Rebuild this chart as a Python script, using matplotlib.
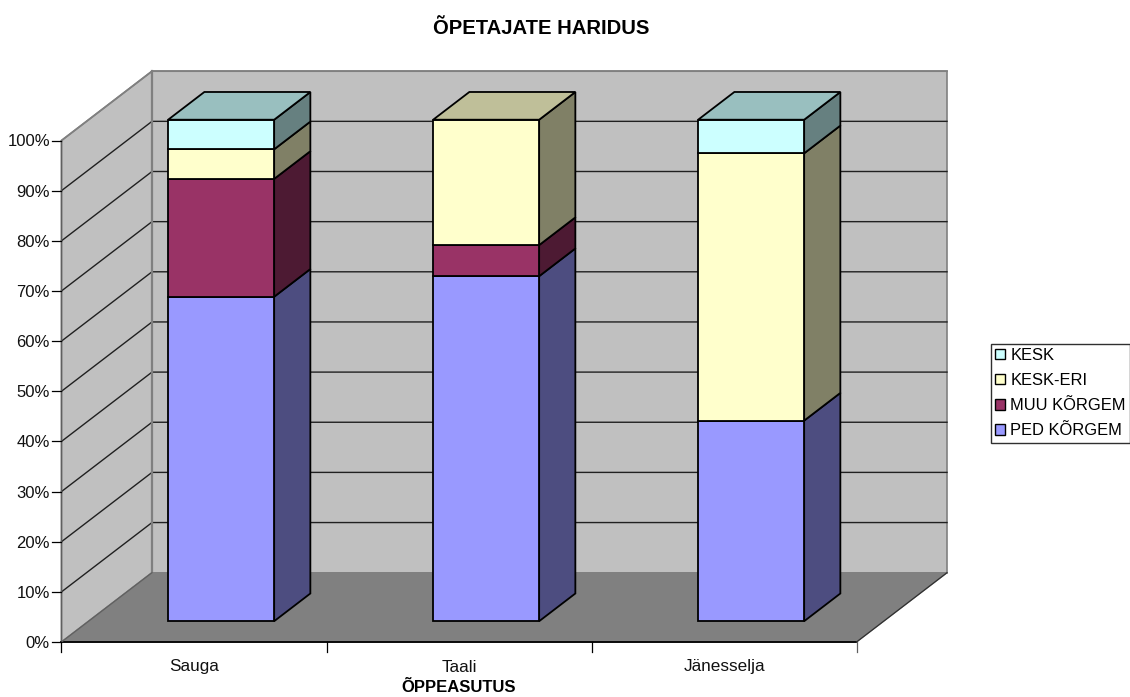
import matplotlib
matplotlib.use('Agg')
import matplotlib.pyplot as plt
from matplotlib.patches import Patch, Polygon

plt.rcParams['font.family'] = ['Liberation Sans', 'DejaVu Sans']

# Data (share of teachers, percent)
categories = ['Sauga', 'Taali', 'Jänesselja']
ped_korgem = [64.7, 68.8, 40.0]
muu_korgem = [23.5, 6.2, 0.0]
kesk_eri = [5.9, 25.0, 53.3]
kesk = [5.9, 0.0, 6.7]
y_ticks = [0, 10, 20, 30, 40, 50, 60, 70, 80, 90, 100]

series = [ped_korgem, muu_korgem, kesk_eri, kesk]
names = ['PED KÕRGEM', 'MUU KÕRGEM', 'KESK-ERI', 'KESK']
colors = ['#9999FF', '#993366', '#FFFFCC', '#CCFFFF']
side_colors = ['#4D4D80', '#4D1A33', '#808066', '#668080']
top_colors = ['#7373BF', '#73264D', '#BFBF99', '#99BFBF']

W, H = 1130, 697
fig = plt.figure(figsize=(W / 100, H / 100), dpi=100)
ax = fig.add_axes([0, 0, 1, 1])

# one x unit = one category, one y unit = one percent
x_px = 265
y_px = 5.015
ax.set_xlim(-61.5 / x_px, (W - 61.5) / x_px)
ax.set_ylim(-(H - 642) / y_px, 642 / y_px)
ax.axis('off')

# oblique depth offset of the back wall
depth_x = 90.5 / x_px
depth_y = 69.3 / y_px
n = len(categories)


def pr(x, y, d=0.0):
    return (x + d * depth_x, y + d * depth_y)


def face(pts, fc, ec='black', lw=1.3, z=1):
    ax.add_patch(Polygon(pts, closed=True, facecolor=fc, edgecolor=ec, linewidth=lw,
                         joinstyle='miter', zorder=z))


# Walls and floor
face([pr(0, 0), pr(0, 100), pr(0, 100, 1), pr(0, 0, 1)], '#C0C0C0', '#808080', 1.2)
face([pr(0, 0, 1), pr(0, 100, 1), pr(n, 100, 1), pr(n, 0, 1)], '#C0C0C0', '#808080', 1.2)
face([pr(0, 0), pr(n, 0), pr(n, 0, 1), pr(0, 0, 1)], '#808080', '#808080', 1.0)

# Gridlines on left wall and back wall
for t in y_ticks[1:]:
    pts = [pr(0, t), pr(0, t, 1), pr(n, t, 1)]
    if t == 100:
        continue
    ax.plot([p[0] for p in pts], [p[1] for p in pts], color='#202020', lw=1.0, zorder=2)
ax.plot(*zip(pr(0, 100), pr(0, 100, 1), pr(n, 100, 1)), color='#808080', lw=1.2, zorder=2)
ax.plot(*zip(pr(0, 0, 1), pr(0, 100, 1)), color='#808080', lw=1.6, zorder=2)

# Axis lines and ticks
ax.plot([0, 0], [0, 100], color='#606060', lw=1.0, zorder=3)
ax.plot([0, n], [0, 0], color='black', lw=1.3, zorder=3)
ax.plot(*zip(pr(0, 0), pr(0, 0, 1)), color='#606060', lw=0.9, zorder=3)
ax.plot(*zip(pr(n, 0), pr(n, 0, 1)), color='#303030', lw=0.9, zorder=3)
tick_x = 9.5 / x_px
tick_y = 10 / y_px
for t in y_ticks:
    ax.plot([-tick_x, 0], [t, t], color='black', lw=0.9, zorder=3)
    ax.text(-tick_x - 2 / x_px, t, f'{t}%', ha='right', va='center_baseline', fontsize=12, color='#111111')
for i in range(n + 1):
    ax.plot([i, i], [0, -tick_y], color='black' if i < n else '#606060', lw=0.9, zorder=3)

# Stacked 3D bars
bar_w = 0.4
d0, d1 = 0.3, 0.7
for i, cat in enumerate(categories):
    x0 = i + 0.5 - bar_w / 2
    x1 = x0 + bar_w
    bottom = 0
    z = 5 + i
    last = max(k for k, s in enumerate(series) if s[i] > 0)
    for k, s in enumerate(series):
        v = s[i]
        if v <= 0:
            continue
        top = bottom + v
        face([pr(x1, bottom, d0), pr(x1, top, d0), pr(x1, top, d1), pr(x1, bottom, d1)],
             side_colors[k], z=z)
        face([pr(x0, bottom, d0), pr(x1, bottom, d0), pr(x1, top, d0), pr(x0, top, d0)],
             colors[k], z=z)
        if k == last:
            face([pr(x0, top, d0), pr(x1, top, d0), pr(x1, top, d1), pr(x0, top, d1)],
                 top_colors[k], z=z)
        bottom = top
    ax.text(i + 0.5, -25 / y_px, cat, ha='center', va='center', fontsize=12.3, color='#111111')

# Titles
ax.text(541 / x_px - 61.5 / x_px, (642 - 29) / y_px, 'ÕPETAJATE HARIDUS', ha='center', va='center',
        fontsize=14.6, fontweight='bold')
ax.text(n / 2 - 0.001, -46 / y_px, 'ÕPPEASUTUS', ha='center', va='center', fontsize=12, fontweight='bold')

# Legend
handles = [Patch(facecolor=colors[k], edgecolor='black', linewidth=1.0, label=names[k]) for k in [3, 2, 1, 0]]
leg = ax.legend(handles=handles, loc='upper left', bbox_to_anchor=(990.5 / W, 1 - 343.5 / H),
                bbox_transform=fig.transFigure, frameon=True, fancybox=False, fontsize=11.9,
                edgecolor='#303030', framealpha=1, handlelength=0.6, handleheight=0.6,
                handletextpad=0.35, labelspacing=0.62, borderpad=0.25, borderaxespad=0)
leg.get_frame().set_linewidth(1.0)

fig.savefig('out.png', dpi=100)
